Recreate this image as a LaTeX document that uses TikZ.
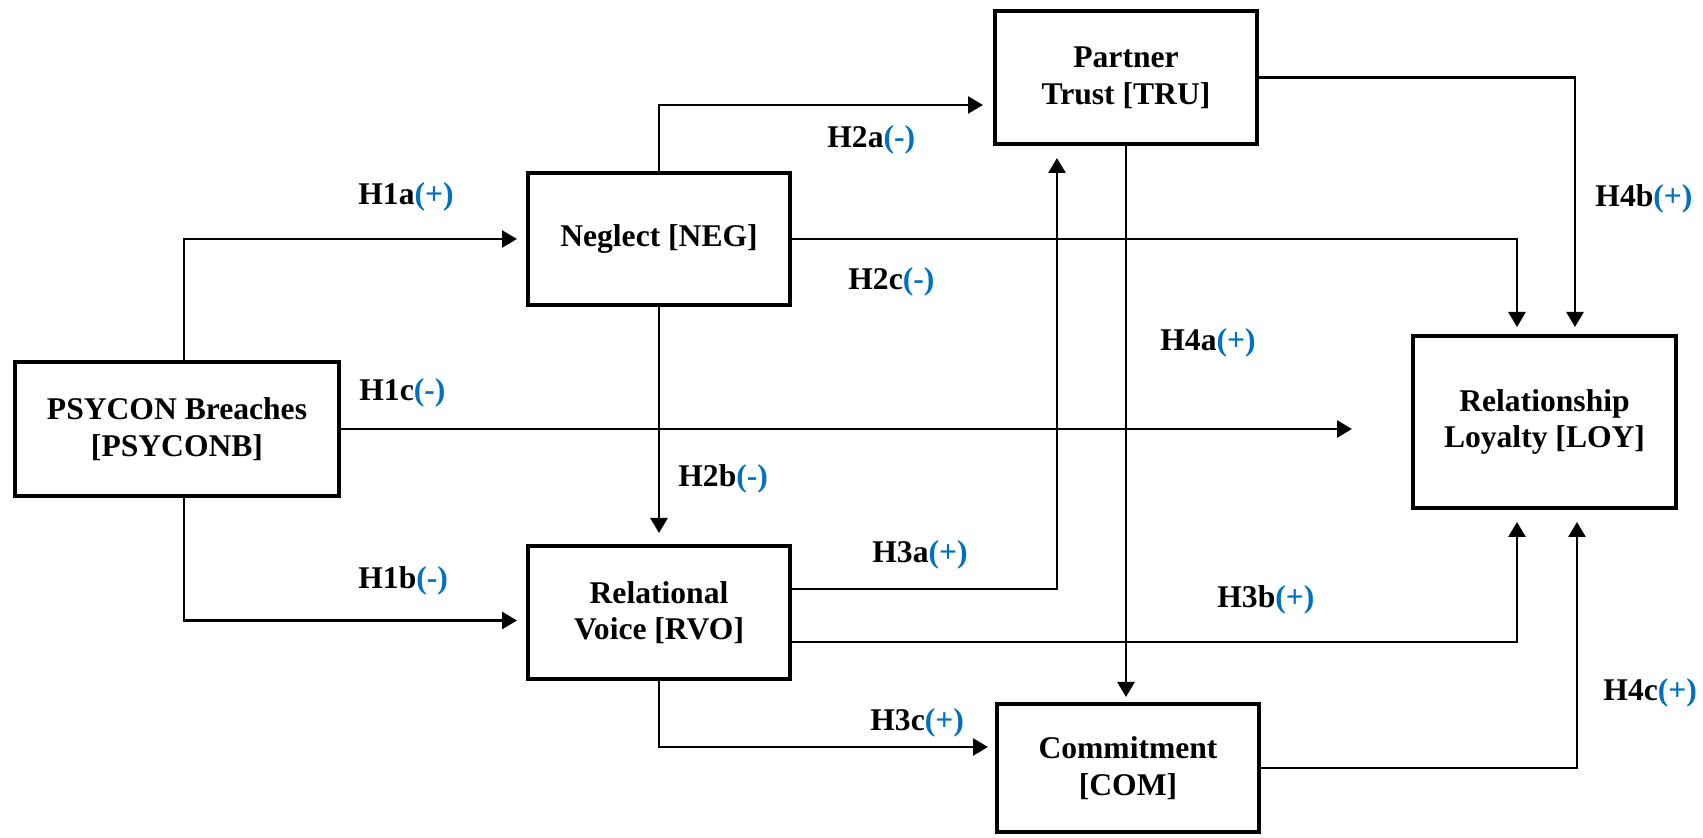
\documentclass[tikz,border=0pt]{standalone}
\usepackage{fontspec}
\setmainfont{Liberation Serif}
\usetikzlibrary{arrows.meta,calc}
\definecolor{hblue}{HTML}{0070C0}
\begin{document}
\begin{tikzpicture}[x=0.5pt,y=-0.5pt,
  box/.style={draw,line width=2pt,inner sep=0pt,align=center,font=\bfseries\fontsize{15.8}{18.3}\selectfont},
  conn/.style={line width=1.35pt,-{Triangle[width=8.5pt,length=7.5pt]}},
  hlab/.style={anchor=base west,inner sep=0pt,font=\bfseries\fontsize{15.8}{18.3}\selectfont}]
\useasboundingbox (0,0) rectangle (1703,838);
% boxes
\node[box,minimum width=162pt,minimum height=67pt] (psy) at (177,429) {PSYCON Breaches\\{[PSYCONB]}};
\node[box,minimum width=131pt,minimum height=66pt] (neg) at (659,239) {Neglect [NEG]};
\node[box,minimum width=131pt,minimum height=66.5pt] (tru) at (1126,77.5) {Partner\\Trust [TRU]};
\node[box,minimum width=131pt,minimum height=66.5pt] (rvo) at (659,612.5) {Relational\\Voice [RVO]};
\node[box,minimum width=131pt,minimum height=64pt] (com) at (1128,768) {Commitment\\{[COM]}};
\node[box,minimum width=131.5pt,minimum height=86pt] (loy) at (1544.5,422) {Relationship\\Loyalty [LOY]};
% connectors
\draw[conn,shorten >=4.5pt] (psy.north -| 184,0) |- (neg.west);
\draw[conn,shorten >=4.5pt] (psy.south -| 184,0) |- ($(rvo.west)+(0,8)$);
\draw[conn,shorten >=29.5pt] (psy.east) -- (psy.east -| loy.west);
\draw[conn,shorten >=5pt] (neg.north) |- ($(tru.west)+(0,27.5)$);
\draw[conn,shorten >=5.5pt] (neg.south) -- (rvo.north);
\draw[conn,shorten >=3.5pt] (neg.east) -| ($(loy.north west)+(106,0)$);
\draw[conn,shorten >=6pt] ($(rvo.east)+(0,-23.5)$) -| ($(tru.south west)+(64,0)$);
\draw[conn,shorten >=6pt] ($(rvo.east)+(0,29.5)$) -| ($(loy.south west)+(106,0)$);
\draw[conn,shorten >=3.5pt] (rvo.south) |- ($(com.west)+(0,-21)$);
\draw[conn,shorten >=2.5pt] (tru.south) -- (tru.south |- com.north);
\draw[conn,shorten >=3.5pt] (tru.east) -| ($(loy.north west)+(164,0)$);
\draw[conn,shorten >=6pt] (com.east) -| ($(loy.south west)+(166,0)$);
% labels
\node[hlab] (h1a) at (358,205) {H1a\textcolor{hblue}{(+)}};
\node[hlab] (h1c) at (359,401) {H1c\textcolor{hblue}{(-)}};
\node[hlab] (h1b) at (358,589) {H1b\textcolor{hblue}{(-)}};
\node[hlab] (h2a) at (827,148) {H2a\textcolor{hblue}{(-)}};
\node[hlab] (h2c) at (848,290) {H2c\textcolor{hblue}{(-)}};
\node[hlab] (h2b) at (678,487) {H2b\textcolor{hblue}{(-)}};
\node[hlab] (h4a) at (1160,351) {H4a\textcolor{hblue}{(+)}};
\node[hlab] (h3a) at (872,563) {H3a\textcolor{hblue}{(+)}};
\node[hlab] (h3b) at (1217,608) {H3b\textcolor{hblue}{(+)}};
\node[hlab] (h3c) at (870,731) {H3c\textcolor{hblue}{(+)}};
\node[hlab] (h4b) at (1595,207) {H4b\textcolor{hblue}{(+)}};
\node[hlab] (h4c) at (1603,701) {H4c\textcolor{hblue}{(+)}};
\end{tikzpicture}
\end{document}
